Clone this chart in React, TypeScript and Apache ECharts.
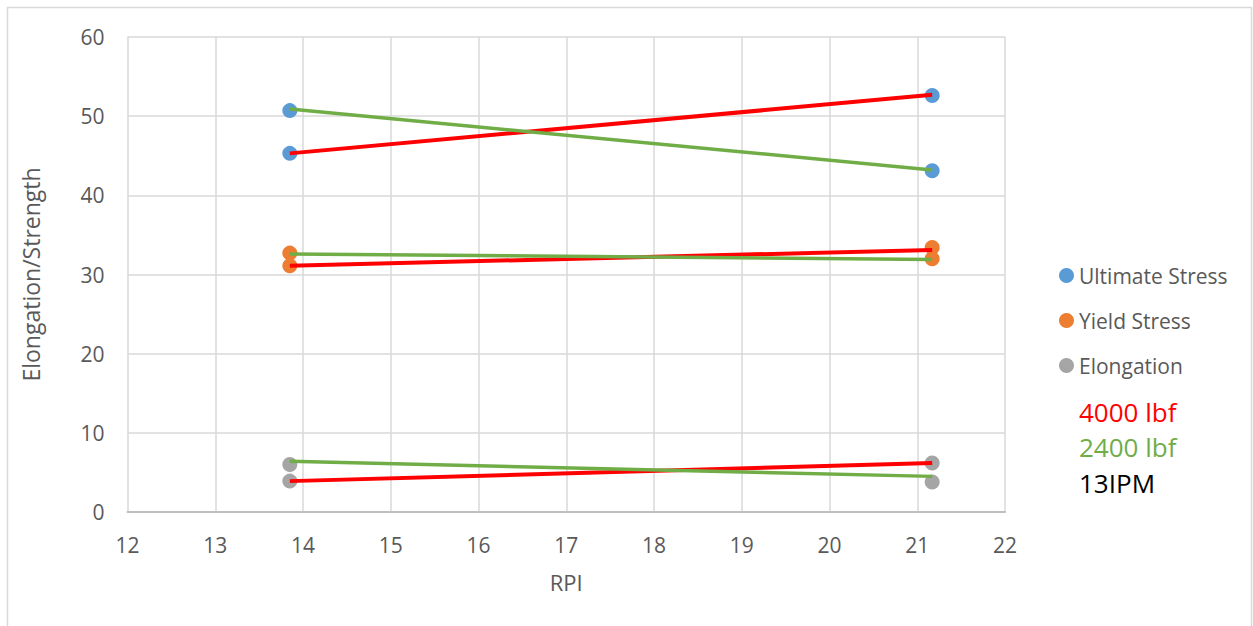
import React, { useEffect, useRef } from "react";
import * as echarts from "echarts";

// RPI positions of the two test conditions
const rpi = [13.85, 21.17];

// Measured values (markers)
const ultimateStress = [
  [45.3, 52.6], // 4000 lbf
  [50.7, 43.1], // 2400 lbf
];
const yieldStress = [
  [31.1, 33.4],
  [32.7, 32.0],
];
const elongation = [
  [3.9, 6.2],
  [6.0, 3.8],
];

// Connector line end values (4000 lbf in red, 2400 lbf in green)
const line4000 = [
  [45.3, 52.7],
  [31.1, 33.1],
  [3.9, 6.2],
];
const line2400 = [
  [50.9, 43.2],
  [32.6, 31.9],
  [6.4, 4.5],
];

const xTicks = { min: 12, max: 22, interval: 1 };
const yTicks = { min: 0, max: 60, interval: 10 };

const legendNames = ["Ultimate Stress", "Yield Stress", "Elongation"];
const noteTexts = ["4000 lbf", "2400 lbf", "13IPM"];

const FONT = "'Open Sans', 'Noto Sans', sans-serif";
const GREY_TEXT = "#595959";
const BLUE = "#5B9BD5";
const ORANGE = "#ED7D31";
const GREY = "#A5A5A5";
const RED = "#FF0000";
const GREEN = "#70AD47";

function toPoints(vals: number[][]) {
  const pts: number[][] = [];
  vals.forEach((pair) => pair.forEach((v, i) => pts.push([rpi[i], v])));
  return pts;
}

export default function App() {
  const ref = useRef<HTMLDivElement>(null);

  useEffect(() => {
    if (!ref.current) return;
    const chart = echarts.init(ref.current, undefined, { renderer: "svg" });

    const markerSeries = [
      { name: legendNames[0], data: toPoints(ultimateStress), color: BLUE },
      { name: legendNames[1], data: toPoints(yieldStress), color: ORANGE },
      { name: legendNames[2], data: toPoints(elongation), color: GREY },
    ].map((s) => ({
      type: "scatter",
      name: s.name,
      data: s.data,
      symbol: "circle",
      symbolSize: 15,
      itemStyle: { color: s.color, opacity: 1 },
      z: 2,
    }));

    const connector = (pair: number[], color: string, width: number) => ({
      type: "line",
      data: pair.map((v, i) => [rpi[i], v]),
      showSymbol: false,
      symbol: "none",
      lineStyle: { color, width },
      silent: true,
      z: 3,
    });

    const lineSeries = [
      ...line4000.map((p) => connector(p, RED, 4)),
      ...line2400.map((p) => connector(p, GREEN, 3.5)),
    ];

    const noteColors = [RED, GREEN, "#000000"];
    const noteY = [412, 447, 483];

    chart.setOption({
      animation: false,
      backgroundColor: "#ffffff",
      textStyle: { fontFamily: FONT },
      grid: { left: 127.5, right: 248, top: 37, bottom: 114, containLabel: false },
      xAxis: {
        type: "value",
        min: xTicks.min,
        max: xTicks.max,
        interval: xTicks.interval,
        name: "RPI",
        nameLocation: "middle",
        nameGap: 59,
        nameTextStyle: { color: GREY_TEXT, fontSize: 22, fontFamily: FONT },
        axisLine: { show: true, lineStyle: { color: "#BFBFBF", width: 2 } },
        axisTick: { show: false },
        axisLabel: { color: GREY_TEXT, fontSize: 21, margin: 22, fontFamily: FONT },
        splitLine: { show: true, lineStyle: { color: "#D9D9D9", width: 1.5 } },
      },
      yAxis: {
        type: "value",
        min: yTicks.min,
        max: yTicks.max,
        interval: yTicks.interval,
        name: "Elongation/Strength",
        nameLocation: "middle",
        nameGap: 85,
        nameRotate: 90,
        nameTextStyle: { color: GREY_TEXT, fontSize: 23, fontFamily: FONT },
        axisLine: { show: false },
        axisTick: { show: false },
        axisLabel: { color: GREY_TEXT, fontSize: 21, margin: 23, fontFamily: FONT },
        splitLine: { show: true, lineStyle: { color: "#D9D9D9", width: 1.5 } },
      },
      legend: {
        data: legendNames,
        orient: "vertical",
        left: 1059,
        top: 265,
        padding: 0,
        itemWidth: 15,
        itemHeight: 15,
        itemGap: 24,
        icon: "circle",
        textStyle: { color: GREY_TEXT, fontSize: 21, lineHeight: 21, fontFamily: FONT },
        selectedMode: false,
      },
      graphic: [
        {
          type: "rect",
          shape: { x: 7.5, y: 7.5, width: 1244, height: 700 },
          style: { fill: "none", stroke: "#D9D9D9", lineWidth: 1.5 },
          silent: true,
          z: -10,
        },
        ...noteTexts.map((t, i) => ({
          type: "text",
          x: 1079,
          y: noteY[i],
          style: {
            text: t,
            fill: noteColors[i],
            fontSize: 26,
            fontFamily: FONT,
            verticalAlign: "middle",
            align: "left",
          },
        })),
      ],
      series: [...markerSeries, ...lineSeries],
    });

    return () => chart.dispose();
  }, []);

  return (
    <div
      ref={ref}
      style={{ position: "absolute", left: 0, top: 0, width: 1253, height: 626 }}
    />
  );
}
